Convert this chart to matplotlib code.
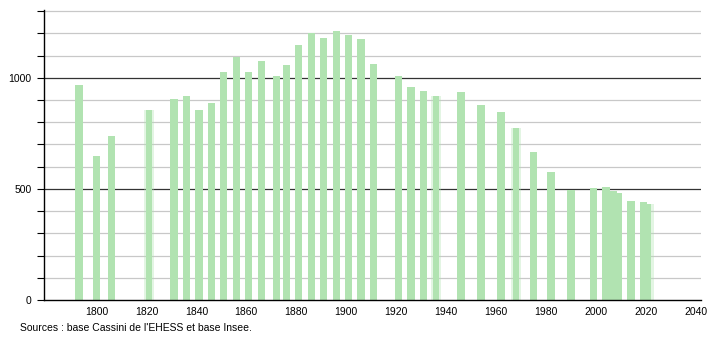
import matplotlib.pyplot as plt
import numpy as np

plt.rcParams['font.family'] = ['Liberation Sans', 'DejaVu Sans']

# census years and population
years = [1793, 1800, 1806, 1821, 1831, 1836, 1841, 1846, 1851, 1856, 1861,
         1866, 1872, 1876, 1881, 1886, 1891, 1896, 1901, 1906, 1911, 1921,
         1926, 1931, 1936, 1946, 1954, 1962, 1968, 1975, 1982, 1990, 1999,
         2004, 2007, 2009, 2014, 2019, 2021]
population = [968, 650, 740, 856, 905, 919, 856, 886, 1028, 1093, 1028,
              1077, 1010, 1059, 1149, 1201, 1178, 1209, 1194, 1174, 1063, 1010,
              958, 941, 919, 938, 877, 845, 776, 668, 578, 495, 503,
              507, 492, 480, 446, 440, 432]
# bars that look blurred in the original rendering
blurred = [1821, 1936, 1968, 2021]

bar_color = '#b1e3b1'

fig = plt.figure(figsize=(7.1, 3.4), dpi=100)
ax = fig.add_axes([0.062, 0.1176, 0.925, 0.853])

for y, p in zip(years, population):
    if y in blurred:
        ax.bar(y, p, width=4.2, color=bar_color, alpha=0.35, linewidth=0, zorder=2)
        ax.bar(y, p, width=2.4, color=bar_color, linewidth=0, zorder=2)
    else:
        ax.bar(y, p, width=2.95, color=bar_color, linewidth=0, zorder=2)

# horizontal grid: light every 100, dark every 500
for v in range(100, 1400, 100):
    if v % 500 == 0:
        ax.axhline(v, color='#333333', linewidth=0.9, zorder=1)
    else:
        ax.axhline(v, color='#c8c8c8', linewidth=0.9, zorder=1)

ax.set_xlim(1779, 2042)
ax.set_ylim(0, 1305)
ax.set_xticks(range(1800, 2041, 20))
ax.set_yticks([0, 500, 1000])
ax.set_yticks(range(0, 1301, 100), minor=True)
ax.tick_params(axis='x', length=0, pad=5, labelsize=7.5)
ax.tick_params(axis='y', which='both', length=5, width=0.8, pad=4, labelsize=7.5)

for s in ['top', 'right']:
    ax.spines[s].set_visible(False)
ax.spines['left'].set_linewidth(1.0)
ax.spines['bottom'].set_linewidth(1.0)

fig.text(20 / 710, 1 - 328 / 340, "Sources : base Cassini de l'EHESS et base Insee.",
         fontsize=7.5, va='center', ha='left')

fig.savefig('out.png', dpi=100)
